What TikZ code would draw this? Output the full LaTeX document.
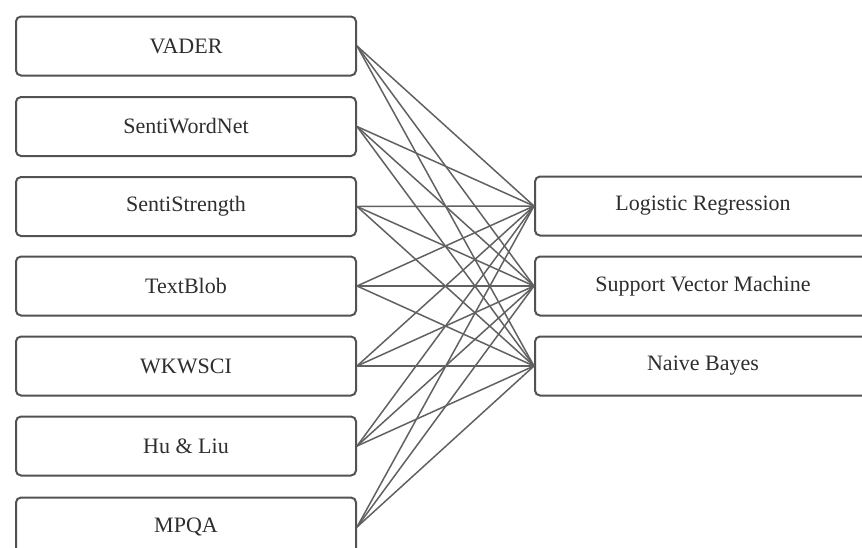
\documentclass[tikz,border=0pt]{standalone}
\usepackage{fontspec}
\setmainfont{Liberation Serif}
\begin{document}
\begin{tikzpicture}[x=1pt,y=-1pt,
  box/.style={draw=black!68, line width=2pt, rounded corners=5pt, fill=white,
    minimum width=340pt, minimum height=59pt, inner sep=0pt,
    font=\fontsize{22}{26}\selectfont, text=black!82},
  model/.style={box, minimum width=336pt},
  link/.style={draw=black!62, line width=1.5pt}]
\useasboundingbox (0,0) rectangle (862,547);
% lexicon boxes (left column)
\node[box] (vader) at (186,46) {VADER};
\node[box] (swn)   at (186,126.5) {SentiWordNet};
\node[box] (sstr)  at (186,206.5) {SentiStrength};
\node[box] (tb)    at (186,286) {TextBlob};
\node[box] (wk)    at (186,366) {WKWSCI};
\node[box] (hl)    at (186,446) {Hu \& Liu};
\node[box] (mpqa)  at (186,527) {MPQA};
% classifier boxes (right column)
\node[model] (lr)  at (703,206) {Logistic Regression};
\node[model] (svm) at (703,286) {Support Vector Machine};
\node[model] (nb)  at (703,366) {Naive Bayes};
% every lexicon feeds every classifier
\begin{scope}[on background layer/.try]
\foreach \l in {vader,swn,sstr,tb,wk,hl,mpqa}{
  \foreach \m in {lr,svm,nb}{
    \path[link] (\l.east) -- (\m.west);
  }
}
\end{scope}
\end{tikzpicture}
\end{document}
